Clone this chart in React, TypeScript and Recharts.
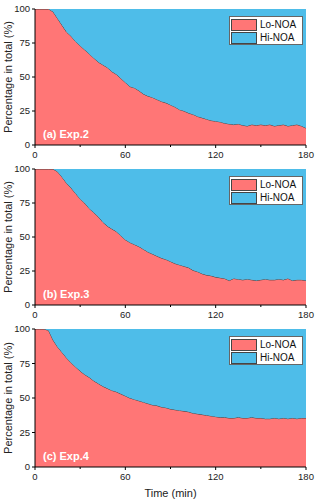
import React from 'react';
import { AreaChart, Area, XAxis, YAxis } from 'recharts';

const times = [
  0, 3, 6, 9, 12, 15, 18, 21, 24, 27, 30, 33, 36, 39, 42, 45, 48, 51, 54, 57,
  60, 63, 66, 69, 72, 75, 78, 81, 84, 87, 90, 93, 96, 99, 102, 105, 108, 111, 114, 117,
  120, 123, 126, 129, 132, 135, 138, 141, 144, 147, 150, 153, 156, 159, 162, 165, 168, 171, 174, 177,
  180,
];

const loExp2 = [
  100, 100, 100, 100, 98, 93, 88, 83, 80, 76, 73, 70, 67, 64, 61, 59, 57, 54, 52, 49,
  46, 43, 42, 40, 37.5, 36, 35, 33.5, 32, 31, 29.5, 28, 26, 25, 23.5, 22.5, 21, 20, 19, 18,
  17.5, 17, 16, 15.5, 15, 15.5, 14.5, 14, 15, 14.5, 15, 14.5, 15, 14, 14.5, 15, 14, 14.5, 15, 14,
  12.5,
];

const loExp3 = [
  100, 100, 100, 100, 100, 98, 94, 89.5, 86, 82, 78, 75, 71, 68, 65, 61, 58, 56, 54, 51,
  48, 46, 44.5, 43, 41, 39, 37.5, 36, 34.5, 33.5, 32, 30.5, 29.5, 28.5, 27.5, 25.5, 24.5, 23, 22, 21.5,
  20.5, 20, 19.5, 18, 19.5, 19, 18.5, 19, 18.5, 18, 18.5, 19, 18.5, 18.5, 19, 18.5, 19.5, 18, 18.5, 18.5,
  18,
];

const loExp4 = [
  100, 100, 100, 99, 92, 87, 83, 79, 75.5, 72.5, 69.5, 67, 65, 62.5, 60.5, 58.5, 57, 55.5, 54.5, 53,
  51.5, 50, 49, 48, 47, 46, 45, 44.5, 43.5, 43, 42, 41.5, 41, 40.5, 40, 39, 38.5, 38, 37.5, 37,
  36.5, 36, 36, 35.5, 35.5, 36, 35.5, 35.5, 36, 35.5, 35.5, 35, 35, 35.5, 35, 35.5, 35, 35.5, 35, 35.5,
  35.5,
];

const xTicks = [0, 30, 60, 90, 120, 150, 180];
const yTicks = [0, 25, 50, 75, 100];

const LO = '#FF7676';
const HI = '#4EBDE9';
const FONT = 'Arial, "Liberation Sans", sans-serif';

const makeXTick = (axisY: number) => (props: any) => {
  const { x, payload } = props;
  const major = payload.value % 60 === 0;
  return (
    <g>
      <line x1={x} x2={x} y1={axisY} y2={axisY + (major ? 3 : 2)} stroke="#000" />
      {major && (
        <text x={x} y={axisY + 13} textAnchor="middle" fontSize={9.5} fontFamily={FONT} fill="#222">
          {payload.value}
        </text>
      )}
    </g>
  );
};

const LegendBox = () => (
  <div
    style={{
      position: 'absolute',
      left: 229,
      top: 16,
      width: 71,
      border: '1px solid #666',
      background: '#fff',
      fontFamily: FONT,
      fontSize: 10,
      color: '#111',
      padding: '1px 0 0 1px',
    }}
  >
    {[
      { label: 'Lo-NOA', color: LO },
      { label: 'Hi-NOA', color: HI },
    ].map((it) => (
      <div key={it.label} style={{ display: 'flex', alignItems: 'center', height: 13 }}>
        <span
          style={{
            display: 'inline-block',
            width: 24,
            height: 10,
            background: it.color,
            border: '1px solid #444',
            marginRight: 3,
          }}
        />
        <span>{it.label}</span>
      </div>
    ))}
  </div>
);

function Panel({ lo, tag, top, height, xLabel }: { lo: number[]; tag: string; top: number; height: number; xLabel?: boolean }) {
  const data = times.map((t, i) => ({ t, lo: lo[i], hi: +(100 - lo[i]).toFixed(1) }));
  const xH = xLabel ? 34 : 15;
  const plotBottom = height - xH;
  return (
    <div style={{ position: 'absolute', left: 0, top, width: 320, height }}>
      <AreaChart width={320} height={height} data={data} margin={{ top: 9, right: 14, bottom: 0, left: 0 }}>
        <XAxis
          dataKey="t"
          type="number"
          domain={[0, 180]}
          ticks={xTicks}
          interval={0}
          tickLine={false}
          axisLine={{ stroke: '#000' }}
          height={xH}
          tick={makeXTick(plotBottom)}
          label={
            xLabel
              ? { value: 'Time (min)', position: 'insideBottom', offset: 4, fontSize: 11, fontFamily: FONT, fill: '#222' }
              : undefined
          }
        />
        <XAxis xAxisId="top" dataKey="t" type="number" domain={[0, 180]} orientation="top" height={0} tick={false} tickLine={false} axisLine={{ stroke: '#000' }} />
        <YAxis
          domain={[0, 100]}
          ticks={yTicks}
          width={35}
          tickSize={3}
          tickMargin={2}
          tickLine={{ stroke: '#000' }}
          axisLine={{ stroke: '#000' }}
          tick={{ fontSize: 9.5, fontFamily: FONT, fill: '#222' }}
          allowDataOverflow
          label={{
            value: 'Percentage in total (%)',
            angle: -90,
            position: 'insideLeft',
            offset: 0,
            dx: 8,
            style: { textAnchor: 'middle', fontSize: 11, fontFamily: FONT, fill: '#222' },
          }}
        />
        <YAxis yAxisId="right" orientation="right" width={0} domain={[0, 100]} tick={false} tickLine={false} axisLine={{ stroke: '#000' }} />
        <Area
          type="linear"
          dataKey="lo"
          stackId="s"
          fill={LO}
          fillOpacity={1}
          stroke="#333"
          strokeWidth={0.9}
          isAnimationActive={false}
          name="Lo-NOA"
        />
        <Area
          type="linear"
          dataKey="hi"
          stackId="s"
          fill={HI}
          fillOpacity={1}
          stroke="none"
          isAnimationActive={false}
          name="Hi-NOA"
        />
      </AreaChart>
      <LegendBox />
      <div
        style={{
          position: 'absolute',
          left: 43,
          top: plotBottom - 17,
          color: '#fff',
          fontWeight: 'bold',
          fontSize: 11,
          fontFamily: FONT,
        }}
      >
        {tag}
      </div>
    </div>
  );
}

export default function App() {
  return (
    <div style={{ position: 'absolute', left: 0, top: 0, width: 320, height: 501, background: '#fff' }}>
      <Panel lo={loExp2} tag="(a) Exp.2" top={0} height={160} />
      <Panel lo={loExp3} tag="(b) Exp.3" top={160} height={160} />
      <Panel lo={loExp4} tag="(c) Exp.4" top={320} height={181} xLabel />
    </div>
  );
}
